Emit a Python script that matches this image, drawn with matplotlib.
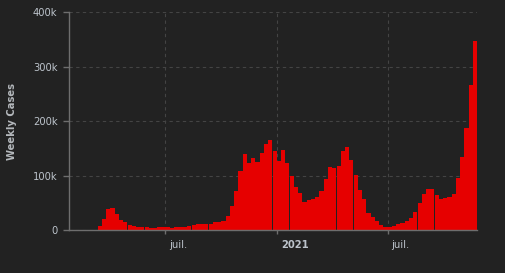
import matplotlib

matplotlib.use("Agg")

import matplotlib.pyplot as plt
import matplotlib.dates as mdates
import matplotlib.transforms as mtransforms
import pandas as pd

# weekly new cases, one bar per week starting 2020-01-23
week_start = "2020-01-23"
weekly_cases = [
    5, 6, 4, 2, 10, 150, 1200,
    7900, 20700, 39000, 41000, 30000, 19000, 15000, 9700, 8000, 6000,
    6000, 6000, 4200, 4500, 6000, 6000, 6000, 4300, 6000, 6000,
    6000, 8000, 9700, 11600, 11600, 11600, 11600, 15000, 15000, 17000,
    26000, 44600, 72000, 109000, 140000, 123500, 132700, 125000, 142000, 158000,
    166000, 145500, 127000, 147000, 123500, 99600, 79500, 68500, 52000, 55600,
    57400, 61000, 72000, 94000, 116000, 114000, 118000, 145500, 153000, 129000,
    101500, 74000, 57400, 31700, 24400, 17000, 9700, 6000, 6000, 7900,
    11600, 13400, 17000, 22600, 33600, 50000, 66600, 75800, 75800, 64800,
    57400, 59300, 61000, 66600, 96000, 134500, 187700, 266600, 347000,
]
y_ticks = [0, 100000, 200000, 300000, 400000]
y_labels = ["0", "100k", "200k", "300k", "400k"]
x_ticks = ["2020-07-01", "2021-01-01", "2021-07-01"]
x_labels = ["juil.", "2021", "juil."]

bg = "#222222"
bar_color = "#e60000"
axis_color = "#6e6e6e"
grid_color = "#444444"
text_color = "#bcc3cb"

dates = pd.date_range(week_start, periods=len(weekly_cases), freq="7D")

fig = plt.figure(figsize=(5.06, 2.73), dpi=100, facecolor=bg)
ax = fig.add_axes([69.3 / 506, 42.7 / 273, (476.7 - 69.3) / 506, (230.3 - 12.3) / 273])
ax.set_facecolor(bg)

ax.bar(dates, weekly_cases, width=6.8, align="edge", color=bar_color,
       linewidth=0, antialiased=False, clip_on=False, zorder=1)

ax.set_xlim(pd.Timestamp("2020-01-25 10:00"), pd.Timestamp("2021-11-24 02:00"))
ax.set_ylim(0, 400000)

ax.set_yticks(y_ticks)
ax.set_yticklabels(y_labels)
ax.set_xticks([mdates.date2num(pd.Timestamp(d)) for d in x_ticks])
ax.set_xticklabels(x_labels)

ax.set_axisbelow(True)
ax.grid(True, color=grid_color, linestyle=(0, (3, 3)), linewidth=0.8)

for side in ("top", "right"):
    ax.spines[side].set_visible(False)
for side in ("left", "bottom"):
    ax.spines[side].set_color(axis_color)
    ax.spines[side].set_linewidth(1.0)

ax.tick_params(axis="y", length=4.5, width=1.0, color=axis_color,
               labelcolor=text_color, labelsize=7.2, pad=4)
ax.tick_params(axis="x", length=3, width=1.0, color=axis_color,
               labelcolor=text_color, labelsize=7.2, pad=3.8)

offset = mtransforms.ScaledTranslation(2.5 / 72, 0, fig.dpi_scale_trans)
for lbl in ax.get_xticklabels():
    lbl.set_horizontalalignment("left")
    lbl.set_transform(lbl.get_transform() + offset)
    if lbl.get_text() == "2021":
        lbl.set_fontweight("bold")

ax.set_ylabel("Weekly Cases", color="#b4b8bc", fontsize=7.2, fontweight="semibold",
              labelpad=10)
ax.yaxis.set_label_coords(-52.3 / 407.4, 0.5)

fig.savefig("out.png", dpi=100, facecolor=bg)
